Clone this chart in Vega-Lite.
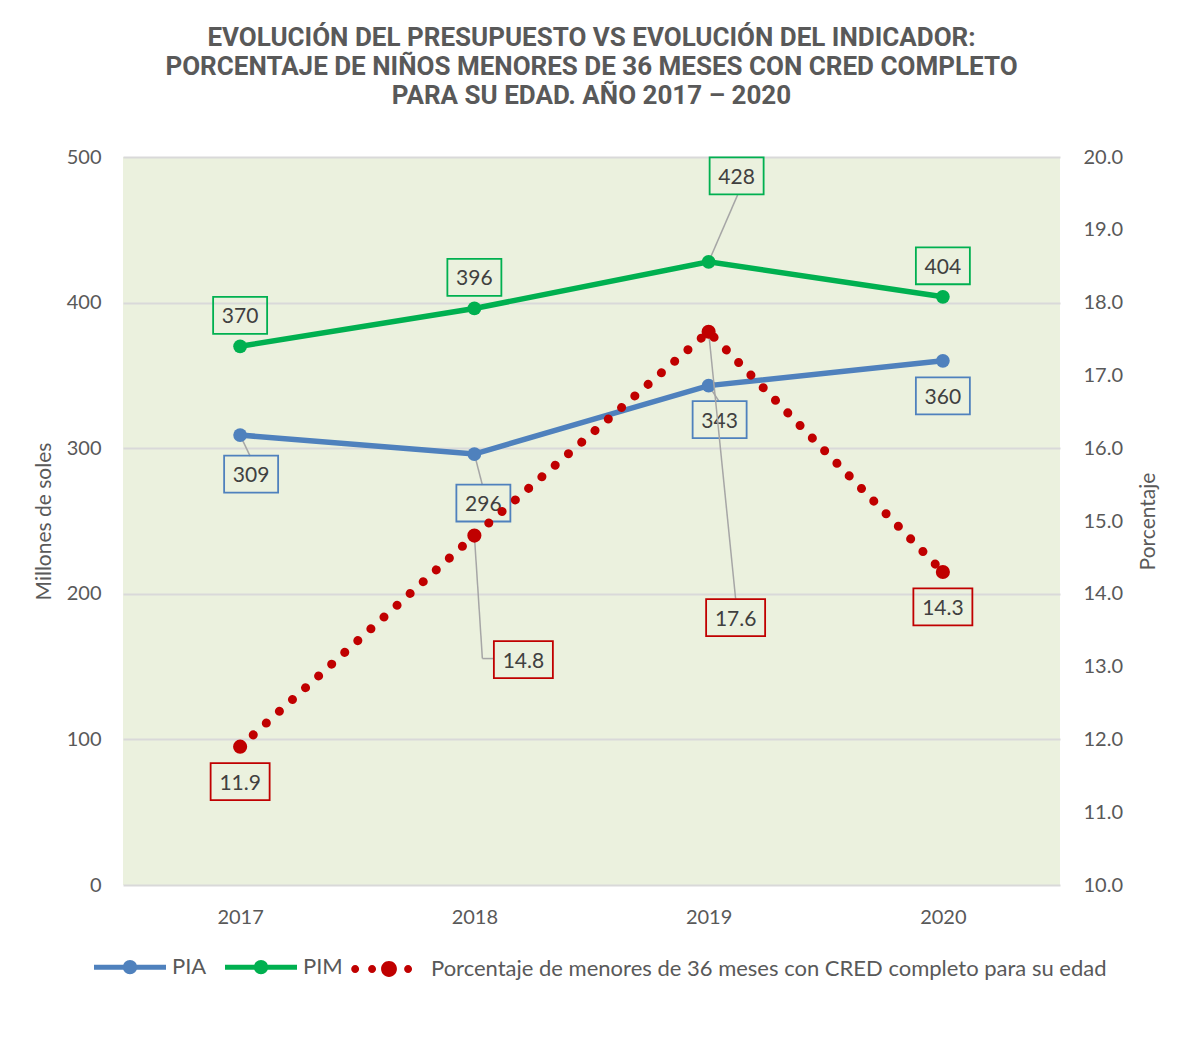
{
  "$schema": "https://vega.github.io/schema/vega-lite/v6.json",
  "width": 937,
  "height": 728,
  "autosize": {"type": "none"},
  "padding": {"left": 123, "top": 157, "right": 126, "bottom": 155},
  "background": "white",
  "config": {
    "view": {"fill": "#EBF1DE", "stroke": null},
    "font": "Lato"
  },
  "title": {
    "text": ["EVOLUCIÓN DEL PRESUPUESTO VS EVOLUCIÓN DEL INDICADOR:", "PORCENTAJE DE NIÑOS MENORES DE 36 MESES CON CRED COMPLETO", "PARA SU EDAD. AÑO 2017 – 2020"],
    "font": "Roboto",
    "fontSize": 26,
    "fontWeight": "bold",
    "color": "#595959",
    "lineHeight": 29,
    "anchor": "middle",
    "offset": 38
  },
  "data": {
    "values": [
      {"year": "2017", "serie": "PIA", "value": 309},
      {"year": "2018", "serie": "PIA", "value": 296},
      {"year": "2019", "serie": "PIA", "value": 343},
      {"year": "2020", "serie": "PIA", "value": 360},
      {"year": "2017", "serie": "PIM", "value": 370},
      {"year": "2018", "serie": "PIM", "value": 396},
      {"year": "2019", "serie": "PIM", "value": 428},
      {"year": "2020", "serie": "PIM", "value": 404},
      {"year": "2017", "serie": "Porcentaje de menores de 36 meses con CRED completo para su edad", "value": 11.9},
      {"year": "2018", "serie": "Porcentaje de menores de 36 meses con CRED completo para su edad", "value": 14.8},
      {"year": "2019", "serie": "Porcentaje de menores de 36 meses con CRED completo para su edad", "value": 17.6},
      {"year": "2020", "serie": "Porcentaje de menores de 36 meses con CRED completo para su edad", "value": 14.3}
    ]
  },
  "encoding": {
    "x": {
      "field": "year", "type": "ordinal",
      "scale": {"type": "point", "padding": 0.5},
      "axis": {"title": null, "labelAngle": 0, "labelFontSize": 20, "labelColor": "#595959", "labelPadding": 22, "ticks": false, "domain": false, "grid": false}
    }
  },
  "layer": [
    {
      "transform": [{"filter": "datum.serie == 'PIA' || datum.serie == 'PIM'"}],
      "encoding": {
        "y": {
          "field": "value", "type": "quantitative",
          "scale": {"domain": [0, 500]},
          "axis": {"title": "Millones de soles", "titleFontSize": 21, "titleFontWeight": "normal", "titleColor": "#595959", "titlePadding": 12, "values": [0, 100, 200, 300, 400, 500], "labelFontSize": 20, "labelColor": "#595959", "labelPadding": 22, "ticks": false, "domain": false, "gridColor": "#D9D9D9", "gridWidth": 2}
        }
      },
      "layer": [
        {
          "transform": [{"filter": "(datum.serie == 'PIA' && datum.year != '2020') || (datum.serie == 'PIM' && datum.year == '2019')"}],
          "mark": {"type": "rule", "color": "#A6A6A6", "strokeWidth": 1.5,
            "x2Offset": {"expr": "datum.serie == 'PIA' ? (datum.year == '2017' ? 10 : datum.year == '2018' ? 8 : 10) : 29"},
            "y2Offset": {"expr": "datum.serie == 'PIA' ? (datum.year == '2017' ? 21 : datum.year == '2018' ? 31 : 15) : -67"}},
          "encoding": {"x2": {"field": "year"}, "y2": {"field": "value"}}
        },
        {
          "mark": {"type": "line", "strokeWidth": 5.5, "point": {"size": 190, "filled": true, "opacity": 1}},
          "encoding": {
            "color": {
              "field": "serie", "type": "nominal",
              "scale": {"domain": ["PIA", "PIM", "Porcentaje de menores de 36 meses con CRED completo para su edad"], "range": ["#4F81BD", "#00B050", "#C00000"]},
              "legend": {
                "orient": "none", "legendX": -4, "legendY": 799, "direction": "horizontal", "title": null,
                "symbolSize": 5184, "labelFont": "Lato", "labelFontSize": 22, "labelColor": "#595959", "labelOffset": 31, "columnPadding": 8, "labelLimit": 900,
                "encode": {
                  "symbols": {
                    "update": {
                      "shape": {"signal": "datum.value == 'PIA' || datum.value == 'PIM' ? 'M-1,0L1,0M-0.13,0A0.13,0.13 0 1,1 0.13,0A0.13,0.13 0 1,1 -0.13,0Z' : 'M-1.05,0A0.11,0.11 0 1,1 -0.83,0A0.11,0.11 0 1,1 -1.05,0ZM-0.58,0A0.11,0.11 0 1,1 -0.36,0A0.11,0.11 0 1,1 -0.58,0ZM-0.22,0A0.22,0.22 0 1,1 0.22,0A0.22,0.22 0 1,1 -0.22,0ZM0.42,0A0.11,0.11 0 1,1 0.64,0A0.11,0.11 0 1,1 0.42,0Z'"},
                      "fill": {"scale": "color", "field": "value"},
                      "stroke": {"scale": "color", "field": "value"},
                      "strokeWidth": {"signal": "datum.value == 'PIA' || datum.value == 'PIM' ? 5 : 0"},
                      "opacity": {"value": 1},
                      "fillOpacity": {"value": 1},
                      "strokeOpacity": {"value": 1}
                    }
                  }
                }
              }
            }
          }
        },
        {
          "mark": {"type": "point", "shape": "M-1,-0.685L1,-0.685L1,0.685L-1,0.685Z", "size": 2916, "filled": false, "strokeWidth": 1.8, "opacity": 1,
            "xOffset": {"expr": "datum.serie == 'PIA' ? (datum.year == '2017' ? 11 : datum.year == '2018' ? 9 : datum.year == '2019' ? 11 : 0) : (datum.year == '2019' ? 28 : 0)"},
            "yOffset": {"expr": "1 + (datum.serie == 'PIA' ? (datum.year == '2017' ? 38 : datum.year == '2018' ? 48 : datum.year == '2019' ? 33 : 34) : (datum.year == '2019' ? -87 : -32))"}},
          "encoding": {"color": {"field": "serie", "type": "nominal", "legend": null}}
        },
        {
          "mark": {"type": "text", "fontSize": 21, "color": "#404040", "baseline": "middle", "align": "center",
            "dx": {"expr": "datum.serie == 'PIA' ? (datum.year == '2017' ? 11 : datum.year == '2018' ? 9 : datum.year == '2019' ? 11 : 0) : (datum.year == '2019' ? 28 : 0)"},
            "dy": {"expr": "3 + (datum.serie == 'PIA' ? (datum.year == '2017' ? 38 : datum.year == '2018' ? 48 : datum.year == '2019' ? 33 : 34) : (datum.year == '2019' ? -87 : -32))"}},
          "encoding": {"text": {"field": "value", "type": "quantitative", "format": "d"}}
        }
      ]
    },
    {
      "transform": [{"filter": "datum.serie != 'PIA' && datum.serie != 'PIM'"}],
      "encoding": {
        "y": {
          "field": "value", "type": "quantitative",
          "scale": {"domain": [10, 20]},
          "axis": {"orient": "right", "title": "Porcentaje", "titleAngle": 270, "titleFontSize": 21, "titleFontWeight": "normal", "titleColor": "#595959", "titlePadding": 36, "values": [10, 11, 12, 13, 14, 15, 16, 17, 18, 19, 20], "format": ".1f", "labelFontSize": 20, "labelColor": "#595959", "labelPadding": 23, "ticks": false, "domain": false, "grid": false}
        }
      },
      "layer": [
        {
          "transform": [{"filter": "datum.year == '2018' || datum.year == '2019'"}],
          "mark": {"type": "rule", "color": "#A6A6A6", "strokeWidth": 1.5,
            "x2Offset": {"expr": "datum.year == '2018' ? 8 : 27"},
            "y2Offset": {"expr": "datum.year == '2018' ? 123 : 267"}},
          "encoding": {"x2": {"field": "year"}, "y2": {"field": "value"}}
        },
        {
          "transform": [{"filter": "datum.year == '2018'"}],
          "mark": {"type": "rule", "color": "#A6A6A6", "strokeWidth": 1.5, "xOffset": 8, "yOffset": 123, "x2Offset": 19, "y2Offset": 123},
          "encoding": {"x2": {"field": "year"}, "y2": {"field": "value"}}
        },
        {
          "mark": {"type": "line", "strokeWidth": 9, "strokeDash": [0.1, 17.5], "strokeCap": "round"},
          "encoding": {"color": {"field": "serie", "type": "nominal"}}
        },
        {
          "mark": {"type": "circle", "size": 200, "opacity": 1},
          "encoding": {"color": {"field": "serie", "type": "nominal"}}
        },
        {
          "mark": {"type": "point", "shape": "M-1,-0.627L1,-0.627L1,0.627L-1,0.627Z", "size": 3481, "filled": false, "strokeWidth": 1.8, "opacity": 1,
            "xOffset": {"expr": "datum.year == '2018' ? 49 : datum.year == '2019' ? 27 : 0"},
            "yOffset": {"expr": "1 + (datum.year == '2018' ? 123 : datum.year == '2019' ? 285 : 34)"}},
          "encoding": {"color": {"field": "serie", "type": "nominal", "legend": null}}
        },
        {
          "mark": {"type": "text", "fontSize": 21, "color": "#404040", "baseline": "middle", "align": "center",
            "dx": {"expr": "datum.year == '2018' ? 49 : datum.year == '2019' ? 27 : 0"},
            "dy": {"expr": "3 + (datum.year == '2018' ? 123 : datum.year == '2019' ? 285 : 34)"}},
          "encoding": {"text": {"field": "value", "type": "quantitative", "format": ".1f"}}
        }
      ]
    }
  ],
  "resolve": {"scale": {"y": "independent"}}
}
